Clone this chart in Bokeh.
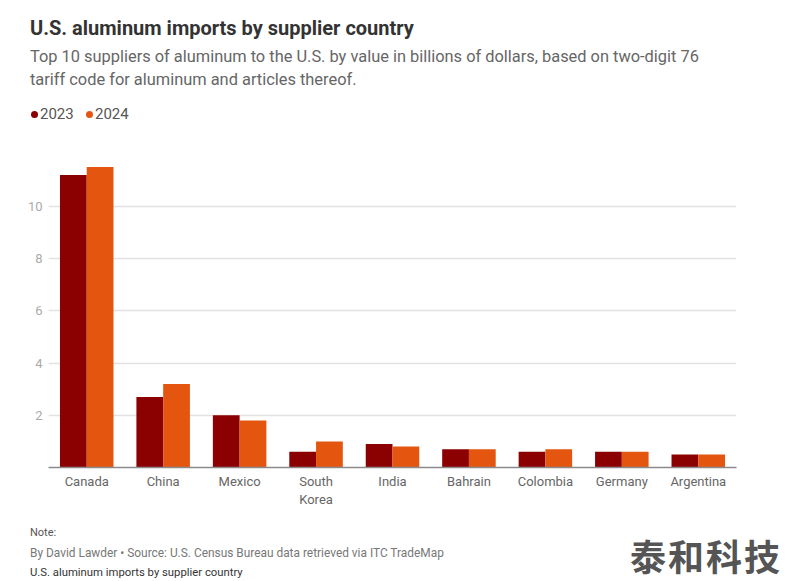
from bokeh.plotting import figure
from bokeh.models import FactorRange, Range1d, FixedTicker, Div
from bokeh.layouts import column
from bokeh.transform import dodge
from bokeh.embed import file_html
from bokeh.resources import INLINE

countries = ["Canada", "China", "Mexico", "South Korea", "India",
             "Bahrain", "Colombia", "Germany", "Argentina"]
imports_2023 = [11.2, 2.7, 2.0, 0.6, 0.9, 0.7, 0.6, 0.6, 0.5]
imports_2024 = [11.5, 3.2, 1.8, 1.0, 0.8, 0.7, 0.7, 0.6, 0.5]
y_ticks = [2, 4, 6, 8, 10]
series = ["2023", "2024"]

title = "U.S. aluminum imports by supplier country"
subtitle = ["Top 10 suppliers of aluminum to the U.S. by value in billions of dollars, based on two-digit 76",
            "tariff code for aluminum and articles thereof."]
note = "Note:"
source_line = "By David Lawder \u2022 Source: U.S. Census Bureau data retrieved via ITC TradeMap"
footer_title = "U.S. aluminum imports by supplier country"
watermark = "\u6cf0\u548c\u79d1\u6280"

COL_2023 = "#8b0000"
COL_2024 = "#e4560f"
FONT = "Roboto"

W = 786
HEAD_H, PLOT_H, FOOT_H = 140, 377, 64
FL, FR, FT, FB = 48, 736, 164, 467  # frame in page px

factors = [c.replace(" ", "\n") for c in countries]

p = figure(width=W, height=PLOT_H, output_backend="svg", toolbar_location=None,
           x_range=FactorRange(*factors, range_padding=0),
           y_range=Range1d(0, 11.6),
           min_border_left=FL, min_border_right=W - FR,
           min_border_top=FT - HEAD_H, min_border_bottom=HEAD_H + PLOT_H - FB)
p.outline_line_color = None
p.background_fill_color = "white"
p.border_fill_color = "white"

src = dict(country=factors, y2023=imports_2023, y2024=imports_2024)
p.vbar(x=dodge("country", -0.175, range=p.x_range), top="y2023", width=0.35,
       source=src, fill_color=COL_2023, line_color=None)
p.vbar(x=dodge("country", 0.175, range=p.x_range), top="y2024", width=0.35,
       source=src, fill_color=COL_2024, line_color=None)

p.xgrid.grid_line_color = None
p.ygrid.ticker = FixedTicker(ticks=y_ticks)
p.ygrid.grid_line_color = "#e2e2e2"
p.ygrid.grid_line_width = 1.5

p.yaxis.ticker = FixedTicker(ticks=y_ticks)
p.yaxis.axis_line_color = None
p.yaxis.major_tick_line_color = None
p.yaxis.minor_tick_line_color = None
p.yaxis.major_tick_out = 0
p.yaxis.major_tick_in = 0
p.yaxis.minor_tick_out = 0
p.yaxis.major_label_text_color = "#aaaaaa"
p.yaxis.major_label_text_font = FONT
p.yaxis.major_label_text_font_size = "13px"
p.yaxis.major_label_standoff = 6

p.xaxis.axis_line_color = "#8a8a8a"
p.xaxis.axis_line_width = 1.5
p.xaxis.major_tick_line_color = None
p.xaxis.minor_tick_line_color = None
p.xaxis.major_tick_out = 0
p.xaxis.major_tick_in = 0
p.xaxis.minor_tick_out = 0
p.xaxis.major_label_text_color = "#666666"
p.xaxis.major_label_text_font = FONT
p.xaxis.major_label_text_font_size = "13px"
p.xaxis.major_label_standoff = 6


def line(text, left, cy, size, color, weight=400, lh=None, font=FONT, extra=""):
    lh = lh or round(size * 1.4)
    top = cy - lh / 2
    return (f'<div style="position:absolute;left:{left}px;top:{top}px;'
            f'font-family:\'{font}\';font-size:{size}px;line-height:{lh}px;'
            f'color:{color};font-weight:{weight};white-space:nowrap;{extra}">{text}</div>')


def dot(cx, cy, color, d=7):
    return (f'<div style="position:absolute;left:{cx - d / 2}px;top:{cy - d / 2}px;'
            f'width:{d}px;height:{d}px;border-radius:50%;background:{color};"></div>')


head_html = (
    f'<div style="position:relative;width:{W}px;height:{HEAD_H}px;">'
    + line(title, 30, 28, 20, "#333333", 700)
    + line(subtitle[0], 30, 56, 16.4, "#666666")
    + line(subtitle[1], 30, 79, 16.4, "#666666")
    + dot(34, 114, COL_2023)
    + line(series[0], 40, 114, 15, "#555555")
    + dot(89, 114, COL_2024)
    + line(series[1], 95, 114, 15, "#555555")
    + '</div>'
)

foot_top = HEAD_H + PLOT_H
foot_html = (
    f'<div style="position:relative;width:{W}px;height:{FOOT_H}px;">'
    + line(note, 30, 532 - foot_top, 11, "#555555")
    + line(source_line, 30, 553 - foot_top, 11.9, "#777777")
    + line(footer_title, 30, 573 - foot_top, 11.3, "#333333", lh=14)
    + line(watermark, 630, 555 - foot_top, 36, "#555555", 700, lh=36,
           font="Noto Sans CJK SC", extra="letter-spacing:2px;")
    + '</div>'
)

head = Div(text=head_html, width=W, height=HEAD_H, styles={"margin": "0", "padding": "0"})
foot = Div(text=foot_html, width=W, height=FOOT_H, styles={"margin": "0", "padding": "0"})

layout = column(head, p, foot, spacing=0)

open("out.html", "w").write(file_html(layout, INLINE))
